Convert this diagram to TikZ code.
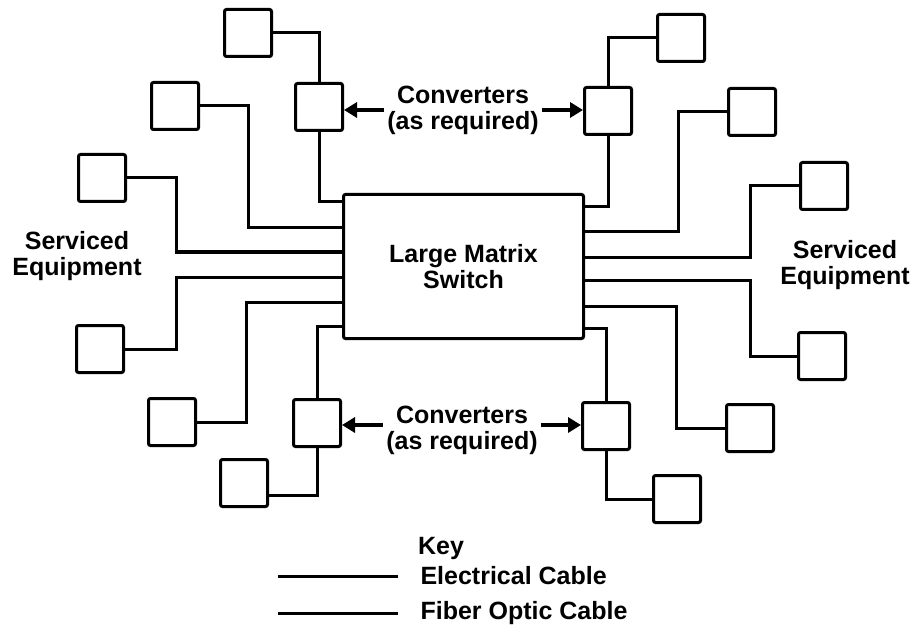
\documentclass[tikz,border=0pt]{standalone}
\usepackage{fontspec}
\setmainfont{Liberation Sans}
\usepackage{tikz}
\usetikzlibrary{arrows.meta,positioning,calc}
\begin{document}
\begin{tikzpicture}[x=1pt, y=-1pt,
      equip/.style={draw, line width=3pt, rounded corners=2pt, minimum size=47pt, inner sep=0pt},
      lbl/.style={font=\fontsize{25}{26}\selectfont\bfseries, align=center},
      cable/.style={line width=3pt},
      arr/.style={-{Triangle[length=13pt, width=15pt]}, line width=4pt}]
    \useasboundingbox (0,0) rectangle (921,639);
    \node[equip, lbl, minimum width=240pt, minimum height=144pt] (sw) at (463.5,266.5) {Large Matrix\\Switch};
    \foreach \i/\y in {1/202, 2/228, 3/252, 4/277, 5/302, 6/326}
      \coordinate (pL\i) at (sw.west |- 0,\y);
    \foreach \i/\y in {1/207, 2/232, 3/257, 4/280, 5/306, 6/328}
      \coordinate (pR\i) at (sw.east |- 0,\y);
    \node[equip] (eqL1) at (248,33) {};
    \node[equip] (eqL2) at (175,106) {};
    \node[equip] (eqL3) at (102,178) {};
    \node[equip] (eqL4) at (100,349) {};
    \node[equip] (eqL5) at (172,422) {};
    \node[equip] (eqL6) at (244,483) {};
    \node[equip] (eqR1) at (681,38) {};
    \node[equip] (eqR2) at (752,112) {};
    \node[equip] (eqR3) at (824,186) {};
    \node[equip] (eqR4) at (822,356) {};
    \node[equip] (eqR5) at (750,428) {};
    \node[equip] (eqR6) at (677,499) {};
    \node[equip] (cvTL) at (319,107) {};
    \node[equip] (cvTR) at (608,111) {};
    \node[equip] (cvBL) at (317,423) {};
    \node[equip] (cvBR) at (606,426) {};
    \node[lbl] (cnvT) at (463,110) {Converters\\(as required)};
    \node[lbl] (cnvB) at (462,430) {Converters\\(as required)};
    \node[lbl] (srvL) at (77,256) {Serviced\\Equipment};
    \node[lbl] (srvR) at (845,265) {Serviced\\Equipment};
    \node[lbl] (key) at (441,548) {Key};
    \node[lbl, anchor=west] (kElec) at (417,576) {Electrical Cable};
    \node[lbl, anchor=west] (kFib) at (417,613) {Fiber Optic Cable};
    \draw[cable] (eqL1) -| (cvTL);
    \draw[cable] (cvTL) |- (pL1);
    \draw[cable] (eqL2.east) -- ++(48.5,0) |- (pL2);
    \draw[cable] (eqL3.east) -- ++(49.5,0) |- (pL3);
    \draw[cable] (eqL4.east) -- ++(51,0) |- (pL4);
    \draw[cable] (eqL5.east) -- ++(49.5,0) |- (pL5);
    \draw[cable] (pL6) -| (cvBL);
    \draw[cable] (cvBL) |- ([yshift=-12pt]eqL6.east);
    \draw[cable] (eqR1) -| (cvTR);
    \draw[cable] (cvTR) |- (pR1);
    \draw[cable] (eqR2.west) -- ++(-48.5,0) |- (pR2);
    \draw[cable] (eqR3.west) -- ++(-48.5,0) |- (pR3);
    \draw[cable] (eqR4.west) -- ++(-46.5,0) |- (pR4);
    \draw[cable] (eqR5.west) -- ++(-48.5,0) |- (pR5);
    \draw[cable] (pR6) -| (cvBR);
    \draw[cable] (cvBR) |- (eqR6);
    \draw[arr] (cnvT.west) -- (cnvT.west -| cvTL.east);
    \draw[arr] (cnvT.east) -- (cnvT.east -| cvTR.west);
    \draw[arr] ([yshift=5pt]cnvB.west) -- ([yshift=5pt]cnvB.west -| cvBL.east);
    \draw[arr] ([yshift=5pt]cnvB.east) -- ([yshift=5pt]cnvB.east -| cvBR.west);
    \draw[cable] ([xshift=-19pt]kElec.west) -- ++(-120,0);
    \draw[cable] ([xshift=-19pt]kFib.west) -- ++(-120,0);
  \end{tikzpicture}
\end{document}
